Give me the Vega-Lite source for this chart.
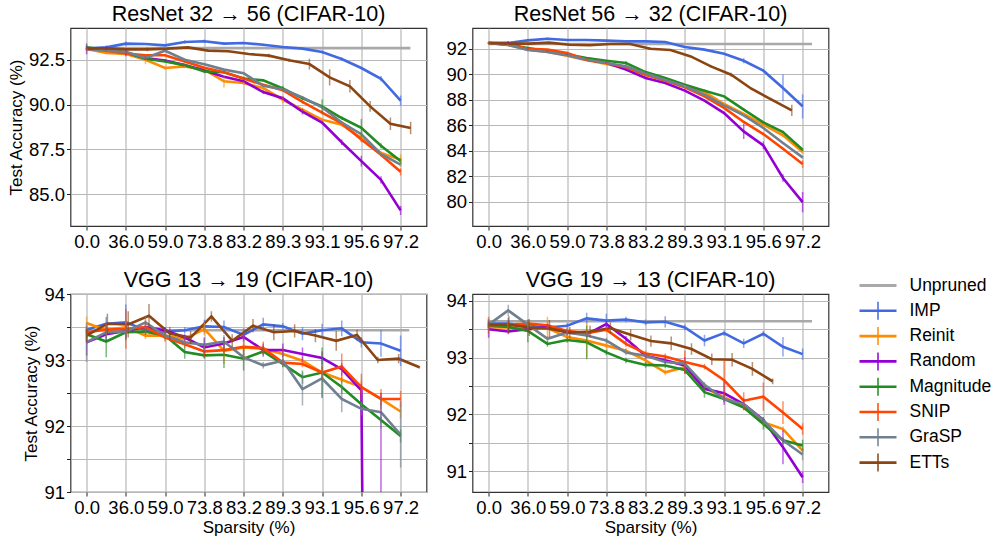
{
"$schema": "https://vega.github.io/schema/vega-lite/v6.json",
"padding": {"left": 6.5, "top": 2, "right": 0, "bottom": 0},
"config": {
  "font": "Liberation Sans",
  "view": {"stroke": "#333", "strokeWidth": 1.2},
  "axis": {"labelFontSize": 18.5, "labelColor": "#000", "titleFontSize": 17, "titleFontWeight": "normal", "titleColor": "#000", "gridColor": "#b8b8b8", "gridWidth": 1.2, "tickColor": "#222", "tickSize": 4, "domain": false, "labelPadding": 2, "titlePadding": 3},
  "title": {"fontSize": 21.5, "fontWeight": "normal", "color": "#000", "offset": 4}
},
"datasets": {
"tl": [
{"m":"Unpruned","x":0,"y":93.15},{"m":"Unpruned","x":8.25,"y":93.15},
{"m":"IMP","x":0,"y":93.12,"e":0.08},{"m":"IMP","x":0.5,"y":93.19,"e":0.1},{"m":"IMP","x":1,"y":93.40,"e":0.12},{"m":"IMP","x":1.5,"y":93.38,"e":0.06},{"m":"IMP","x":2,"y":93.30,"e":0.05},{"m":"IMP","x":2.5,"y":93.49,"e":0.1},{"m":"IMP","x":3,"y":93.53,"e":0.1},{"m":"IMP","x":3.5,"y":93.40,"e":0.06},{"m":"IMP","x":4,"y":93.43,"e":0.05},{"m":"IMP","x":4.5,"y":93.34,"e":0.05},{"m":"IMP","x":5,"y":93.21,"e":0.05},{"m":"IMP","x":5.5,"y":93.12,"e":0.05},{"m":"IMP","x":6,"y":92.93,"e":0.08},{"m":"IMP","x":6.5,"y":92.54,"e":0.08},{"m":"IMP","x":7,"y":92.04,"e":0.06},{"m":"IMP","x":7.5,"y":91.44,"e":0.15},{"m":"IMP","x":8,"y":90.22,"e":0.28},
{"m":"Reinit","x":0,"y":93.10,"e":0.1},{"m":"Reinit","x":0.5,"y":92.88,"e":0.05},{"m":"Reinit","x":1,"y":92.82,"e":0.05},{"m":"Reinit","x":1.5,"y":92.5,"e":0.25},{"m":"Reinit","x":2,"y":92.04,"e":0.1},{"m":"Reinit","x":2.5,"y":92.13,"e":0.1},{"m":"Reinit","x":3,"y":91.95,"e":0.1},{"m":"Reinit","x":3.5,"y":91.3,"e":0.35},{"m":"Reinit","x":4,"y":91.2,"e":0.1},{"m":"Reinit","x":4.5,"y":90.92,"e":0.1},{"m":"Reinit","x":5,"y":90.27,"e":0.2},{"m":"Reinit","x":5.5,"y":89.72,"e":0.1},{"m":"Reinit","x":6,"y":89.16,"e":0.1},{"m":"Reinit","x":6.5,"y":88.88,"e":0.1},{"m":"Reinit","x":7,"y":88.14,"e":0.2},{"m":"Reinit","x":7.5,"y":87.3,"e":0.1},{"m":"Reinit","x":8,"y":86.93,"e":0.3},
{"m":"Random","x":0,"y":93.1,"e":0.3},{"m":"Random","x":0.5,"y":93.1,"e":0.15},{"m":"Random","x":1,"y":92.9,"e":0.2},{"m":"Random","x":1.5,"y":92.6,"e":0.1},{"m":"Random","x":2,"y":92.45,"e":0.05},{"m":"Random","x":2.5,"y":92.2,"e":0.05},{"m":"Random","x":3,"y":91.9,"e":0.1},{"m":"Random","x":3.5,"y":91.55,"e":0.05},{"m":"Random","x":4,"y":91.3,"e":0.05},{"m":"Random","x":4.5,"y":90.7,"e":0.1},{"m":"Random","x":5,"y":90.35,"e":0.1},{"m":"Random","x":5.5,"y":89.6,"e":0.15},{"m":"Random","x":6,"y":89.0,"e":0.1},{"m":"Random","x":6.5,"y":87.9,"e":0.15},{"m":"Random","x":7,"y":86.85,"e":0.3},{"m":"Random","x":7.5,"y":85.8,"e":0.2},{"m":"Random","x":8,"y":84.1,"e":0.25},
{"m":"Magnitude","x":0,"y":93.2,"e":0.1},{"m":"Magnitude","x":0.5,"y":93.05,"e":0.05},{"m":"Magnitude","x":1,"y":92.9,"e":0.05},{"m":"Magnitude","x":1.5,"y":92.55,"e":0.05},{"m":"Magnitude","x":2,"y":92.4,"e":0.05},{"m":"Magnitude","x":2.5,"y":92.2,"e":0.05},{"m":"Magnitude","x":3,"y":91.85,"e":0.1},{"m":"Magnitude","x":3.5,"y":91.8,"e":0.05},{"m":"Magnitude","x":4,"y":91.45,"e":0.1},{"m":"Magnitude","x":4.5,"y":91.35,"e":0.05},{"m":"Magnitude","x":5,"y":90.9,"e":0.15},{"m":"Magnitude","x":5.5,"y":90.35,"e":0.1},{"m":"Magnitude","x":6,"y":89.9,"e":0.4},{"m":"Magnitude","x":6.5,"y":89.25,"e":0.1},{"m":"Magnitude","x":7,"y":88.7,"e":0.5},{"m":"Magnitude","x":7.5,"y":87.7,"e":0.15},{"m":"Magnitude","x":8,"y":86.85,"e":0.15},
{"m":"SNIP","x":0,"y":93.1,"e":0.05},{"m":"SNIP","x":0.5,"y":93.0,"e":0.05},{"m":"SNIP","x":1,"y":92.85,"e":0.1},{"m":"SNIP","x":1.5,"y":92.75,"e":0.05},{"m":"SNIP","x":2,"y":92.75,"e":0.05},{"m":"SNIP","x":2.5,"y":92.4,"e":0.05},{"m":"SNIP","x":3,"y":92.05,"e":0.05},{"m":"SNIP","x":3.5,"y":91.8,"e":0.05},{"m":"SNIP","x":4,"y":91.45,"e":0.05},{"m":"SNIP","x":4.5,"y":91.1,"e":0.05},{"m":"SNIP","x":5,"y":90.8,"e":0.05},{"m":"SNIP","x":5.5,"y":90.15,"e":0.1},{"m":"SNIP","x":6,"y":89.55,"e":0.1},{"m":"SNIP","x":6.5,"y":88.95,"e":0.1},{"m":"SNIP","x":7,"y":88.05,"e":0.15},{"m":"SNIP","x":7.5,"y":87.2,"e":0.1},{"m":"SNIP","x":8,"y":86.25,"e":0.2},
{"m":"GraSP","x":0,"y":93.1,"e":0.05},{"m":"GraSP","x":0.5,"y":93.0,"e":0.05},{"m":"GraSP","x":1,"y":92.95,"e":0.05},{"m":"GraSP","x":1.5,"y":92.6,"e":0.05},{"m":"GraSP","x":2,"y":93.0,"e":0.05},{"m":"GraSP","x":2.5,"y":92.5,"e":0.05},{"m":"GraSP","x":3,"y":92.25,"e":0.05},{"m":"GraSP","x":3.5,"y":91.95,"e":0.05},{"m":"GraSP","x":4,"y":91.75,"e":0.05},{"m":"GraSP","x":4.5,"y":91.05,"e":0.05},{"m":"GraSP","x":5,"y":90.85,"e":0.05},{"m":"GraSP","x":5.5,"y":90.4,"e":0.05},{"m":"GraSP","x":6,"y":89.85,"e":0.05},{"m":"GraSP","x":6.5,"y":89.0,"e":0.05},{"m":"GraSP","x":7,"y":88.35,"e":0.1},{"m":"GraSP","x":7.5,"y":87.25,"e":0.05},{"m":"GraSP","x":8,"y":86.65,"e":0.1},
{"m":"ETTs","x":0,"y":93.12,"e":0.05},{"m":"ETTs","x":0.516,"y":93.14,"e":0.1},{"m":"ETTs","x":1.032,"y":93.08,"e":0.05},{"m":"ETTs","x":1.548,"y":93.08,"e":0.1},{"m":"ETTs","x":2.064,"y":93.12,"e":0.05},{"m":"ETTs","x":2.58,"y":93.19,"e":0.05},{"m":"ETTs","x":3.096,"y":93.01,"e":0.05},{"m":"ETTs","x":3.612,"y":92.97,"e":0.05},{"m":"ETTs","x":4.128,"y":92.82,"e":0.05},{"m":"ETTs","x":4.644,"y":92.73,"e":0.1},{"m":"ETTs","x":5.16,"y":92.47,"e":0.1},{"m":"ETTs","x":5.676,"y":92.26,"e":0.3},{"m":"ETTs","x":6.192,"y":91.52,"e":0.45},{"m":"ETTs","x":6.708,"y":91.02,"e":0.35},{"m":"ETTs","x":7.224,"y":89.9,"e":0.3},{"m":"ETTs","x":7.74,"y":88.93,"e":0.35},{"m":"ETTs","x":8.256,"y":88.69,"e":0.35}
],
"tr": [
{"m":"Unpruned","x":0,"y":92.37},{"m":"Unpruned","x":8.24,"y":92.37},
{"m":"IMP","x":0,"y":92.45,"e":0.05},{"m":"IMP","x":0.5,"y":92.45,"e":0.1},{"m":"IMP","x":1,"y":92.66,"e":0.05},{"m":"IMP","x":1.5,"y":92.79,"e":0.1},{"m":"IMP","x":2,"y":92.69,"e":0.05},{"m":"IMP","x":2.5,"y":92.69,"e":0.05},{"m":"IMP","x":3,"y":92.64,"e":0.05},{"m":"IMP","x":3.5,"y":92.58,"e":0.05},{"m":"IMP","x":4,"y":92.58,"e":0.05},{"m":"IMP","x":4.5,"y":92.53,"e":0.05},{"m":"IMP","x":5,"y":92.14,"e":0.05},{"m":"IMP","x":5.5,"y":91.93,"e":0.05},{"m":"IMP","x":6,"y":91.61,"e":0.05},{"m":"IMP","x":6.5,"y":91.06,"e":0.2},{"m":"IMP","x":7,"y":90.28,"e":0.1},{"m":"IMP","x":7.5,"y":88.92,"e":1.05},{"m":"IMP","x":8,"y":87.48,"e":0.95},
{"m":"Reinit","x":0,"y":92.45,"e":0.05},{"m":"Reinit","x":0.5,"y":92.3,"e":0.05},{"m":"Reinit","x":1,"y":91.95,"e":0.05},{"m":"Reinit","x":1.5,"y":91.75,"e":0.05},{"m":"Reinit","x":2,"y":91.46,"e":0.05},{"m":"Reinit","x":2.5,"y":91.1,"e":0.05},{"m":"Reinit","x":3,"y":90.8,"e":0.05},{"m":"Reinit","x":3.5,"y":90.5,"e":0.05},{"m":"Reinit","x":4,"y":89.96,"e":0.05},{"m":"Reinit","x":4.5,"y":89.6,"e":0.05},{"m":"Reinit","x":5,"y":89.05,"e":0.1},{"m":"Reinit","x":5.5,"y":88.6,"e":0.05},{"m":"Reinit","x":6,"y":87.66,"e":0.05},{"m":"Reinit","x":6.5,"y":86.88,"e":0.1},{"m":"Reinit","x":7,"y":86.04,"e":0.1},{"m":"Reinit","x":7.5,"y":85.2,"e":0.15},{"m":"Reinit","x":8,"y":83.89,"e":0.15},
{"m":"Random","x":0,"y":92.45,"e":0.05},{"m":"Random","x":0.5,"y":92.45,"e":0.15},{"m":"Random","x":1,"y":91.95,"e":0.05},{"m":"Random","x":1.5,"y":91.8,"e":0.05},{"m":"Random","x":2,"y":91.54,"e":0.05},{"m":"Random","x":2.5,"y":91.14,"e":0.05},{"m":"Random","x":3,"y":90.9,"e":0.05},{"m":"Random","x":3.5,"y":90.36,"e":0.1},{"m":"Random","x":4,"y":89.7,"e":0.1},{"m":"Random","x":4.5,"y":89.31,"e":0.05},{"m":"Random","x":5,"y":88.71,"e":0.1},{"m":"Random","x":5.5,"y":87.92,"e":0.1},{"m":"Random","x":6,"y":86.95,"e":0.1},{"m":"Random","x":6.5,"y":85.51,"e":0.6},{"m":"Random","x":7,"y":84.41,"e":0.3},{"m":"Random","x":7.5,"y":81.85,"e":0.3},{"m":"Random","x":8,"y":79.96,"e":0.8},
{"m":"Magnitude","x":0,"y":92.45,"e":0.05},{"m":"Magnitude","x":0.5,"y":92.32,"e":0.05},{"m":"Magnitude","x":1,"y":92.05,"e":0.1},{"m":"Magnitude","x":1.5,"y":91.8,"e":0.05},{"m":"Magnitude","x":2,"y":91.54,"e":0.05},{"m":"Magnitude","x":2.5,"y":91.27,"e":0.05},{"m":"Magnitude","x":3,"y":91.06,"e":0.05},{"m":"Magnitude","x":3.5,"y":90.88,"e":0.15},{"m":"Magnitude","x":4,"y":90.17,"e":0.05},{"m":"Magnitude","x":4.5,"y":89.7,"e":0.05},{"m":"Magnitude","x":5,"y":89.18,"e":0.05},{"m":"Magnitude","x":5.5,"y":88.71,"e":0.1},{"m":"Magnitude","x":6,"y":88.26,"e":0.05},{"m":"Magnitude","x":6.5,"y":87.22,"e":0.1},{"m":"Magnitude","x":7,"y":86.22,"e":0.1},{"m":"Magnitude","x":7.5,"y":85.46,"e":0.1},{"m":"Magnitude","x":8,"y":84.07,"e":0.1},
{"m":"SNIP","x":0,"y":92.45,"e":0.1},{"m":"SNIP","x":0.5,"y":92.35,"e":0.05},{"m":"SNIP","x":1,"y":92.0,"e":0.05},{"m":"SNIP","x":1.5,"y":91.93,"e":0.05},{"m":"SNIP","x":2,"y":91.67,"e":0.05},{"m":"SNIP","x":2.5,"y":91.14,"e":0.1},{"m":"SNIP","x":3,"y":90.88,"e":0.05},{"m":"SNIP","x":3.5,"y":90.55,"e":0.05},{"m":"SNIP","x":4,"y":89.96,"e":0.05},{"m":"SNIP","x":4.5,"y":89.49,"e":0.05},{"m":"SNIP","x":5,"y":88.97,"e":0.05},{"m":"SNIP","x":5.5,"y":88.26,"e":0.05},{"m":"SNIP","x":6,"y":87.35,"e":0.05},{"m":"SNIP","x":6.5,"y":86.25,"e":0.1},{"m":"SNIP","x":7,"y":85.3,"e":0.1},{"m":"SNIP","x":7.5,"y":84.15,"e":0.1},{"m":"SNIP","x":8,"y":82.95,"e":0.3},
{"m":"GraSP","x":0,"y":92.45,"e":0.05},{"m":"GraSP","x":0.5,"y":92.3,"e":0.05},{"m":"GraSP","x":1,"y":91.9,"e":0.05},{"m":"GraSP","x":1.5,"y":91.75,"e":0.05},{"m":"GraSP","x":2,"y":91.5,"e":0.05},{"m":"GraSP","x":2.5,"y":91.14,"e":0.05},{"m":"GraSP","x":3,"y":90.88,"e":0.05},{"m":"GraSP","x":3.5,"y":90.62,"e":0.05},{"m":"GraSP","x":4,"y":90.05,"e":0.05},{"m":"GraSP","x":4.5,"y":89.55,"e":0.05},{"m":"GraSP","x":5,"y":89.05,"e":0.05},{"m":"GraSP","x":5.5,"y":88.39,"e":0.05},{"m":"GraSP","x":6,"y":87.56,"e":0.05},{"m":"GraSP","x":6.5,"y":86.77,"e":0.05},{"m":"GraSP","x":7,"y":85.78,"e":0.05},{"m":"GraSP","x":7.5,"y":84.6,"e":0.05},{"m":"GraSP","x":8,"y":83.47,"e":0.1},
{"m":"ETTs","x":0,"y":92.45,"e":0.05},{"m":"ETTs","x":0.515,"y":92.4,"e":0.1},{"m":"ETTs","x":1.03,"y":92.4,"e":0.05},{"m":"ETTs","x":1.545,"y":92.48,"e":0.05},{"m":"ETTs","x":2.06,"y":92.32,"e":0.05},{"m":"ETTs","x":2.575,"y":92.27,"e":0.05},{"m":"ETTs","x":3.09,"y":92.37,"e":0.05},{"m":"ETTs","x":3.605,"y":92.37,"e":0.05},{"m":"ETTs","x":4.12,"y":92.0,"e":0.1},{"m":"ETTs","x":4.635,"y":91.9,"e":0.05},{"m":"ETTs","x":5.15,"y":91.4,"e":0.05},{"m":"ETTs","x":5.665,"y":90.62,"e":0.1},{"m":"ETTs","x":6.18,"y":89.96,"e":0.15},{"m":"ETTs","x":6.695,"y":88.86,"e":0.1},{"m":"ETTs","x":7.21,"y":88.0,"e":0.1},{"m":"ETTs","x":7.725,"y":87.16,"e":0.45}
],
"bl": [
{"m":"Unpruned","x":0,"y":93.45},{"m":"Unpruned","x":8.22,"y":93.45},
{"m":"IMP","x":0,"y":93.46,"e":0.05},{"m":"IMP","x":0.5,"y":93.55,"e":0.1},{"m":"IMP","x":1,"y":93.57,"e":0.27},{"m":"IMP","x":1.5,"y":93.45,"e":0.05},{"m":"IMP","x":2,"y":93.43,"e":0.05},{"m":"IMP","x":2.5,"y":93.45,"e":0.05},{"m":"IMP","x":3,"y":93.51,"e":0.1},{"m":"IMP","x":3.5,"y":93.5,"e":0.1},{"m":"IMP","x":4,"y":93.38,"e":0.1},{"m":"IMP","x":4.5,"y":93.54,"e":0.1},{"m":"IMP","x":5,"y":93.51,"e":0.05},{"m":"IMP","x":5.5,"y":93.4,"e":0.1},{"m":"IMP","x":6,"y":93.45,"e":0.1},{"m":"IMP","x":6.5,"y":93.48,"e":0.12},{"m":"IMP","x":7,"y":93.27,"e":0.08},{"m":"IMP","x":7.5,"y":93.25,"e":0.2},{"m":"IMP","x":8,"y":93.14,"e":0.23},
{"m":"Reinit","x":0,"y":93.56,"e":0.1},{"m":"Reinit","x":0.5,"y":93.45,"e":0.05},{"m":"Reinit","x":1,"y":93.5,"e":0.1},{"m":"Reinit","x":1.5,"y":93.37,"e":0.05},{"m":"Reinit","x":2,"y":93.37,"e":0.1},{"m":"Reinit","x":2.5,"y":93.32,"e":0.05},{"m":"Reinit","x":3,"y":93.47,"e":0.1},{"m":"Reinit","x":3.5,"y":93.14,"e":0.2},{"m":"Reinit","x":4,"y":93.19,"e":0.05},{"m":"Reinit","x":4.5,"y":93.17,"e":0.05},{"m":"Reinit","x":5,"y":93.09,"e":0.1},{"m":"Reinit","x":5.5,"y":92.99,"e":0.05},{"m":"Reinit","x":6,"y":92.81,"e":0.1},{"m":"Reinit","x":6.5,"y":92.7,"e":0.05},{"m":"Reinit","x":7,"y":92.59,"e":0.1},{"m":"Reinit","x":7.5,"y":92.41,"e":0.1},{"m":"Reinit","x":8,"y":92.22,"e":0.1},
{"m":"Random","x":0,"y":93.27,"e":0.2},{"m":"Random","x":0.5,"y":93.39,"e":0.1},{"m":"Random","x":1,"y":93.44,"e":0.1},{"m":"Random","x":1.5,"y":93.5,"e":0.05},{"m":"Random","x":2,"y":93.45,"e":0.05},{"m":"Random","x":2.5,"y":93.34,"e":0.05},{"m":"Random","x":3,"y":93.19,"e":0.15},{"m":"Random","x":3.5,"y":93.25,"e":0.1},{"m":"Random","x":4,"y":93.35,"e":0.05},{"m":"Random","x":4.5,"y":93.15,"e":0.1},{"m":"Random","x":5,"y":93.15,"e":0.1},{"m":"Random","x":5.5,"y":93.09,"e":0.1},{"m":"Random","x":6,"y":93.03,"e":0.1},{"m":"Random","x":6.5,"y":92.86,"e":0.1},{"m":"Random","x":7,"y":92.54,"e":0.1},{"m":"Random","x":7.5,"y":60,"e":32.5},{"m":"Random","x":8,"y":10,"e":0.5},
{"m":"Magnitude","x":0,"y":93.39,"e":0.1},{"m":"Magnitude","x":0.5,"y":93.28,"e":0.24},{"m":"Magnitude","x":1,"y":93.42,"e":0.1},{"m":"Magnitude","x":1.5,"y":93.43,"e":0.05},{"m":"Magnitude","x":2,"y":93.37,"e":0.05},{"m":"Magnitude","x":2.5,"y":93.12,"e":0.1},{"m":"Magnitude","x":3,"y":93.07,"e":0.05},{"m":"Magnitude","x":3.5,"y":93.08,"e":0.2},{"m":"Magnitude","x":4,"y":93.02,"e":0.18},{"m":"Magnitude","x":4.5,"y":93.13,"e":0.05},{"m":"Magnitude","x":5,"y":92.94,"e":0.05},{"m":"Magnitude","x":5.5,"y":92.74,"e":0.1},{"m":"Magnitude","x":6,"y":92.81,"e":0.38},{"m":"Magnitude","x":6.5,"y":92.59,"e":0.1},{"m":"Magnitude","x":7,"y":92.33,"e":0.05},{"m":"Magnitude","x":7.5,"y":92.09,"e":0.05},{"m":"Magnitude","x":8,"y":91.85,"e":0.1},
{"m":"SNIP","x":0,"y":93.42,"e":0.1},{"m":"SNIP","x":0.5,"y":93.46,"e":0.1},{"m":"SNIP","x":1,"y":93.47,"e":0.3},{"m":"SNIP","x":1.5,"y":93.5,"e":0.1},{"m":"SNIP","x":2,"y":93.34,"e":0.05},{"m":"SNIP","x":2.5,"y":93.24,"e":0.05},{"m":"SNIP","x":3,"y":93.13,"e":0.1},{"m":"SNIP","x":3.5,"y":93.15,"e":0.05},{"m":"SNIP","x":4,"y":93.2,"e":0.2},{"m":"SNIP","x":4.5,"y":93.18,"e":0.1},{"m":"SNIP","x":5,"y":92.96,"e":0.05},{"m":"SNIP","x":5.5,"y":92.94,"e":0.05},{"m":"SNIP","x":6,"y":92.81,"e":0.1},{"m":"SNIP","x":6.5,"y":92.9,"e":0.2},{"m":"SNIP","x":7,"y":92.59,"e":0.2},{"m":"SNIP","x":7.5,"y":92.41,"e":0.15},{"m":"SNIP","x":8,"y":92.41,"e":0.12},
{"m":"GraSP","x":0,"y":93.27,"e":0.3},{"m":"GraSP","x":0.5,"y":93.42,"e":0.1},{"m":"GraSP","x":1,"y":93.43,"e":0.1},{"m":"GraSP","x":1.5,"y":93.57,"e":0.1},{"m":"GraSP","x":2,"y":93.37,"e":0.05},{"m":"GraSP","x":2.5,"y":93.27,"e":0.05},{"m":"GraSP","x":3,"y":93.23,"e":0.1},{"m":"GraSP","x":3.5,"y":93.28,"e":0.1},{"m":"GraSP","x":4,"y":93.04,"e":0.05},{"m":"GraSP","x":4.5,"y":92.92,"e":0.05},{"m":"GraSP","x":5,"y":92.99,"e":0.1},{"m":"GraSP","x":5.5,"y":92.56,"e":0.25},{"m":"GraSP","x":6,"y":92.72,"e":0.3},{"m":"GraSP","x":6.5,"y":92.41,"e":0.2},{"m":"GraSP","x":7,"y":92.26,"e":0.1},{"m":"GraSP","x":7.5,"y":92.21,"e":0.25},{"m":"GraSP","x":8,"y":91.87,"e":0.5},
{"m":"ETTs","x":0,"y":93.37,"e":0.1},{"m":"ETTs","x":0.53,"y":93.55,"e":0.15},{"m":"ETTs","x":1.06,"y":93.54,"e":0.2},{"m":"ETTs","x":1.59,"y":93.67,"e":0.18},{"m":"ETTs","x":2.12,"y":93.4,"e":0.1},{"m":"ETTs","x":2.65,"y":93.34,"e":0.1},{"m":"ETTs","x":3.18,"y":93.66,"e":0.08},{"m":"ETTs","x":3.71,"y":93.29,"e":0.1},{"m":"ETTs","x":4.24,"y":93.52,"e":0.1},{"m":"ETTs","x":4.77,"y":93.42,"e":0.12},{"m":"ETTs","x":5.3,"y":93.44,"e":0.1},{"m":"ETTs","x":5.83,"y":93.37,"e":0.1},{"m":"ETTs","x":6.36,"y":93.29,"e":0.15},{"m":"ETTs","x":6.89,"y":93.38,"e":0.08},{"m":"ETTs","x":7.42,"y":93.0,"e":0.05},{"m":"ETTs","x":7.95,"y":93.02,"e":0.07},{"m":"ETTs","x":8.48,"y":92.89,"e":0.02}
],
"br": [
{"m":"Unpruned","x":0,"y":93.64},{"m":"Unpruned","x":8.24,"y":93.64},
{"m":"IMP","x":0,"y":93.60,"e":0.08},{"m":"IMP","x":0.5,"y":93.60,"e":0.1},{"m":"IMP","x":1,"y":93.56,"e":0.05},{"m":"IMP","x":1.5,"y":93.53,"e":0.05},{"m":"IMP","x":2,"y":93.56,"e":0.05},{"m":"IMP","x":2.5,"y":93.69,"e":0.1},{"m":"IMP","x":3,"y":93.65,"e":0.12},{"m":"IMP","x":3.5,"y":93.67,"e":0.05},{"m":"IMP","x":4,"y":93.62,"e":0.05},{"m":"IMP","x":4.5,"y":93.63,"e":0.1},{"m":"IMP","x":5,"y":93.53,"e":0.05},{"m":"IMP","x":5.5,"y":93.30,"e":0.1},{"m":"IMP","x":6,"y":93.43,"e":0.05},{"m":"IMP","x":6.5,"y":93.25,"e":0.08},{"m":"IMP","x":7,"y":93.42,"e":0.05},{"m":"IMP","x":7.5,"y":93.19,"e":0.17},{"m":"IMP","x":8,"y":93.06,"e":0.1},
{"m":"Reinit","x":0,"y":93.53,"e":0.05},{"m":"Reinit","x":0.5,"y":93.53,"e":0.1},{"m":"Reinit","x":1,"y":93.5,"e":0.05},{"m":"Reinit","x":1.5,"y":93.52,"e":0.2},{"m":"Reinit","x":2,"y":93.36,"e":0.05},{"m":"Reinit","x":2.5,"y":93.3,"e":0.3},{"m":"Reinit","x":3,"y":93.21,"e":0.05},{"m":"Reinit","x":3.5,"y":93.12,"e":0.05},{"m":"Reinit","x":4,"y":92.95,"e":0.05},{"m":"Reinit","x":4.5,"y":92.74,"e":0.05},{"m":"Reinit","x":5,"y":92.83,"e":0.05},{"m":"Reinit","x":5.5,"y":92.47,"e":0.05},{"m":"Reinit","x":6,"y":92.3,"e":0.05},{"m":"Reinit","x":6.5,"y":92.13,"e":0.05},{"m":"Reinit","x":7,"y":91.86,"e":0.05},{"m":"Reinit","x":7.5,"y":91.74,"e":0.05},{"m":"Reinit","x":8,"y":91.36,"e":0.05},
{"m":"Random","x":0,"y":93.5,"e":0.15},{"m":"Random","x":0.5,"y":93.46,"e":0.05},{"m":"Random","x":1,"y":93.5,"e":0.05},{"m":"Random","x":1.5,"y":93.54,"e":0.05},{"m":"Random","x":2,"y":93.44,"e":0.05},{"m":"Random","x":2.5,"y":93.41,"e":0.05},{"m":"Random","x":3,"y":93.59,"e":0.05},{"m":"Random","x":3.5,"y":93.33,"e":0.05},{"m":"Random","x":4,"y":93.03,"e":0.05},{"m":"Random","x":4.5,"y":92.95,"e":0.05},{"m":"Random","x":5,"y":92.86,"e":0.15},{"m":"Random","x":5.5,"y":92.45,"e":0.05},{"m":"Random","x":6,"y":92.37,"e":0.2},{"m":"Random","x":6.5,"y":92.18,"e":0.1},{"m":"Random","x":7,"y":91.9,"e":0.05},{"m":"Random","x":7.5,"y":91.42,"e":0.3},{"m":"Random","x":8,"y":90.89,"e":0.1},
{"m":"Magnitude","x":0,"y":93.56,"e":0.05},{"m":"Magnitude","x":0.5,"y":93.54,"e":0.1},{"m":"Magnitude","x":1,"y":93.47,"e":0.2},{"m":"Magnitude","x":1.5,"y":93.24,"e":0.05},{"m":"Magnitude","x":2,"y":93.31,"e":0.05},{"m":"Magnitude","x":2.5,"y":93.27,"e":0.3},{"m":"Magnitude","x":3,"y":93.09,"e":0.05},{"m":"Magnitude","x":3.5,"y":92.95,"e":0.05},{"m":"Magnitude","x":4,"y":92.87,"e":0.05},{"m":"Magnitude","x":4.5,"y":92.86,"e":0.05},{"m":"Magnitude","x":5,"y":92.78,"e":0.05},{"m":"Magnitude","x":5.5,"y":92.39,"e":0.1},{"m":"Magnitude","x":6,"y":92.27,"e":0.05},{"m":"Magnitude","x":6.5,"y":92.12,"e":0.05},{"m":"Magnitude","x":7,"y":91.83,"e":0.1},{"m":"Magnitude","x":7.5,"y":91.54,"e":0.05},{"m":"Magnitude","x":8,"y":91.45,"e":0.1},
{"m":"SNIP","x":0,"y":93.57,"e":0.15},{"m":"SNIP","x":0.5,"y":93.58,"e":0.05},{"m":"SNIP","x":1,"y":93.6,"e":0.05},{"m":"SNIP","x":1.5,"y":93.57,"e":0.05},{"m":"SNIP","x":2,"y":93.47,"e":0.05},{"m":"SNIP","x":2.5,"y":93.43,"e":0.05},{"m":"SNIP","x":3,"y":93.49,"e":0.05},{"m":"SNIP","x":3.5,"y":93.24,"e":0.05},{"m":"SNIP","x":4,"y":93.07,"e":0.05},{"m":"SNIP","x":4.5,"y":93.02,"e":0.05},{"m":"SNIP","x":5,"y":92.92,"e":0.2},{"m":"SNIP","x":5.5,"y":92.84,"e":0.05},{"m":"SNIP","x":6,"y":92.6,"e":0.35},{"m":"SNIP","x":6.5,"y":92.24,"e":0.15},{"m":"SNIP","x":7,"y":92.31,"e":0.25},{"m":"SNIP","x":7.5,"y":92.03,"e":0.2},{"m":"SNIP","x":8,"y":91.74,"e":0.1},
{"m":"GraSP","x":0,"y":93.58,"e":0.1},{"m":"GraSP","x":0.5,"y":93.83,"e":0.1},{"m":"GraSP","x":1,"y":93.58,"e":0.05},{"m":"GraSP","x":1.5,"y":93.33,"e":0.05},{"m":"GraSP","x":2,"y":93.44,"e":0.05},{"m":"GraSP","x":2.5,"y":93.39,"e":0.05},{"m":"GraSP","x":3,"y":93.3,"e":0.05},{"m":"GraSP","x":3.5,"y":93.09,"e":0.05},{"m":"GraSP","x":4,"y":93.03,"e":0.05},{"m":"GraSP","x":4.5,"y":92.92,"e":0.05},{"m":"GraSP","x":5,"y":92.89,"e":0.05},{"m":"GraSP","x":5.5,"y":92.52,"e":0.05},{"m":"GraSP","x":6,"y":92.27,"e":0.05},{"m":"GraSP","x":6.5,"y":92.18,"e":0.05},{"m":"GraSP","x":7,"y":91.89,"e":0.05},{"m":"GraSP","x":7.5,"y":91.54,"e":0.05},{"m":"GraSP","x":8,"y":91.29,"e":0.1},
{"m":"ETTs","x":0,"y":93.58,"e":0.05},{"m":"ETTs","x":0.517,"y":93.58,"e":0.15},{"m":"ETTs","x":1.034,"y":93.53,"e":0.15},{"m":"ETTs","x":1.551,"y":93.51,"e":0.15},{"m":"ETTs","x":2.068,"y":93.44,"e":0.1},{"m":"ETTs","x":2.585,"y":93.46,"e":0.1},{"m":"ETTs","x":3.102,"y":93.52,"e":0.1},{"m":"ETTs","x":3.619,"y":93.4,"e":0.1},{"m":"ETTs","x":4.136,"y":93.29,"e":0.1},{"m":"ETTs","x":4.653,"y":93.25,"e":0.12},{"m":"ETTs","x":5.17,"y":93.15,"e":0.1},{"m":"ETTs","x":5.687,"y":92.97,"e":0.1},{"m":"ETTs","x":6.204,"y":92.96,"e":0.12},{"m":"ETTs","x":6.721,"y":92.8,"e":0.12},{"m":"ETTs","x":7.238,"y":92.58,"e":0.05}
]
},
"columns": 2,
"bounds": "flush",
"spacing": {"row": 68, "column": 46},
"concat": [
{
  "width": 356, "height": 198,
  "title": {"text": "ResNet 32 → 56 (CIFAR-10)", "offset": 3},
  "data": {"name": "tl"},
  "encoding": {
    "x": {"field": "x", "type": "quantitative", "scale": {"domain": [-0.41, 8.66], "nice": false, "zero": false}, "axis": {"values": [0,1,2,3,4,5,6,7,8], "labelExpr": "['0.0','36.0','59.0','73.8','83.2','89.3','93.1','95.6','97.2'][datum.value]", "title": null}},
    "y": {"field": "y", "type": "quantitative", "scale": {"domain": [83.23, 94.27], "nice": false, "zero": false}, "axis": {"values": [85, 87.5, 90, 92.5], "format": ".1f", "title": "Test Accuracy (%)"}},
    "color": {"field": "m", "type": "nominal", "sort": null,
      "scale": {"domain": ["Unpruned","IMP","Reinit","Random","Magnitude","SNIP","GraSP","ETTs"], "range": ["#a9a9a9","#4169e1","#ff8c00","#9400d3","#228b22","#ff4500","#708090","#8b4513"]},
      "legend": {"title": null, "orient": "none", "legendX": 789, "legendY": 247.5, "symbolSize": 400, "labelFontSize": 17.5, "labelColor": "#000", "labelOffset": 30, "rowPadding": 6.3,
        "encode": {"symbols": {"update": {
          "shape": {"signal": "datum.value === 'Unpruned' ? 'M-1,-0.15H2.7V0.15H-1Z' : 'M-1,-0.13H0.775V-0.9H0.925V-0.13H2.7V0.13H0.925V0.9H0.775V0.13H-1Z'"},
          "fill": {"signal": "scale('color', datum.value)"},
          "stroke": {"value": "transparent"}, "strokeWidth": {"value": 0}, "opacity": {"value": 1}, "fillOpacity": {"value": 1}, "size": {"value": 400}}}}}
    }
  },
  "layer": [
    {"mark": {"type": "line", "strokeWidth": 2.6, "clip": true}},
    {"transform": [{"filter": "datum.m !== 'Unpruned'"}], "mark": {"type": "errorbar", "clip": true, "thickness": 1.5, "opacity": 0.6}, "encoding": {"y": {"field": "y", "type": "quantitative"}, "yError": {"field": "e"}}}
  ]
},
{
  "width": 356, "height": 198,
  "title": {"text": "ResNet 56 → 32 (CIFAR-10)", "offset": 3},
  "data": {"name": "tr"},
  "encoding": {
    "x": {"field": "x", "type": "quantitative", "scale": {"domain": [-0.41, 8.66], "nice": false, "zero": false}, "axis": {"values": [0,1,2,3,4,5,6,7,8], "labelExpr": "['0.0','36.0','59.0','73.8','83.2','89.3','93.1','95.6','97.2'][datum.value]", "title": null}},
    "y": {"field": "y", "type": "quantitative", "scale": {"domain": [78.08, 93.63], "nice": false, "zero": false}, "axis": {"values": [80, 82, 84, 86, 88, 90, 92], "format": "d", "title": null}},
    "color": {"field": "m", "type": "nominal", "sort": null,
      "scale": {"domain": ["Unpruned","IMP","Reinit","Random","Magnitude","SNIP","GraSP","ETTs"], "range": ["#a9a9a9","#4169e1","#ff8c00","#9400d3","#228b22","#ff4500","#708090","#8b4513"]},
      "legend": {"title": null, "orient": "none", "legendX": 789, "legendY": 247.5, "symbolSize": 400, "labelFontSize": 17.5, "labelColor": "#000", "labelOffset": 30, "rowPadding": 6.3,
        "encode": {"symbols": {"update": {
          "shape": {"signal": "datum.value === 'Unpruned' ? 'M-1,-0.15H2.7V0.15H-1Z' : 'M-1,-0.13H0.775V-0.9H0.925V-0.13H2.7V0.13H0.925V0.9H0.775V0.13H-1Z'"},
          "fill": {"signal": "scale('color', datum.value)"},
          "stroke": {"value": "transparent"}, "strokeWidth": {"value": 0}, "opacity": {"value": 1}, "fillOpacity": {"value": 1}, "size": {"value": 400}}}}}
    }
  },
  "layer": [
    {"mark": {"type": "line", "strokeWidth": 2.6, "clip": true}},
    {"transform": [{"filter": "datum.m !== 'Unpruned'"}], "mark": {"type": "errorbar", "clip": true, "thickness": 1.5, "opacity": 0.6}, "encoding": {"y": {"field": "y", "type": "quantitative"}, "yError": {"field": "e"}}}
  ]
},
{
  "width": 356, "height": 198,
  "title": {"text": "VGG 13 → 19 (CIFAR-10)", "offset": -6},
  "data": {"name": "bl"},
  "encoding": {
    "x": {"field": "x", "type": "quantitative", "scale": {"domain": [-0.41, 8.66], "nice": false, "zero": false}, "axis": {"values": [0,1,2,3,4,5,6,7,8], "labelExpr": "['0.0','36.0','59.0','73.8','83.2','89.3','93.1','95.6','97.2'][datum.value]", "title": "Sparsity (%)"}},
    "y": {"field": "y", "type": "quantitative", "scale": {"domain": [91, 94], "nice": false, "zero": false}, "axis": {"values": [91, 91.5, 92, 92.5, 93, 93.5, 94], "labelExpr": "datum.value % 1 === 0 ? format(datum.value, 'd') : ''", "title": "Test Accuracy (%)"}},
    "color": {"field": "m", "type": "nominal", "sort": null,
      "scale": {"domain": ["Unpruned","IMP","Reinit","Random","Magnitude","SNIP","GraSP","ETTs"], "range": ["#a9a9a9","#4169e1","#ff8c00","#9400d3","#228b22","#ff4500","#708090","#8b4513"]},
      "legend": {"title": null, "orient": "none", "legendX": 789, "legendY": 247.5, "symbolSize": 400, "labelFontSize": 17.5, "labelColor": "#000", "labelOffset": 30, "rowPadding": 6.3,
        "encode": {"symbols": {"update": {
          "shape": {"signal": "datum.value === 'Unpruned' ? 'M-1,-0.15H2.7V0.15H-1Z' : 'M-1,-0.13H0.775V-0.9H0.925V-0.13H2.7V0.13H0.925V0.9H0.775V0.13H-1Z'"},
          "fill": {"signal": "scale('color', datum.value)"},
          "stroke": {"value": "transparent"}, "strokeWidth": {"value": 0}, "opacity": {"value": 1}, "fillOpacity": {"value": 1}, "size": {"value": 400}}}}}
    }
  },
  "layer": [
    {"mark": {"type": "line", "strokeWidth": 2.6, "clip": true}},
    {"transform": [{"filter": "datum.m !== 'Unpruned'"}], "mark": {"type": "errorbar", "clip": true, "thickness": 1.5, "opacity": 0.6}, "encoding": {"y": {"field": "y", "type": "quantitative"}, "yError": {"field": "e"}}}
  ]
},
{
  "width": 356, "height": 198,
  "title": {"text": "VGG 19 → 13 (CIFAR-10)", "offset": 0},
  "data": {"name": "br"},
  "encoding": {
    "x": {"field": "x", "type": "quantitative", "scale": {"domain": [-0.41, 8.66], "nice": false, "zero": false}, "axis": {"values": [0,1,2,3,4,5,6,7,8], "labelExpr": "['0.0','36.0','59.0','73.8','83.2','89.3','93.1','95.6','97.2'][datum.value]", "title": "Sparsity (%)"}},
    "y": {"field": "y", "type": "quantitative", "scale": {"domain": [90.63, 94.12], "nice": false, "zero": false}, "axis": {"values": [91, 91.5, 92, 92.5, 93, 93.5, 94], "labelExpr": "datum.value % 1 === 0 ? format(datum.value, 'd') : ''", "title": null}},
    "color": {"field": "m", "type": "nominal", "sort": null,
      "scale": {"domain": ["Unpruned","IMP","Reinit","Random","Magnitude","SNIP","GraSP","ETTs"], "range": ["#a9a9a9","#4169e1","#ff8c00","#9400d3","#228b22","#ff4500","#708090","#8b4513"]},
      "legend": {"title": null, "orient": "none", "legendX": 789, "legendY": 247.5, "symbolSize": 400, "labelFontSize": 17.5, "labelColor": "#000", "labelOffset": 30, "rowPadding": 6.3,
        "encode": {"symbols": {"update": {
          "shape": {"signal": "datum.value === 'Unpruned' ? 'M-1,-0.15H2.7V0.15H-1Z' : 'M-1,-0.13H0.775V-0.9H0.925V-0.13H2.7V0.13H0.925V0.9H0.775V0.13H-1Z'"},
          "fill": {"signal": "scale('color', datum.value)"},
          "stroke": {"value": "transparent"}, "strokeWidth": {"value": 0}, "opacity": {"value": 1}, "fillOpacity": {"value": 1}, "size": {"value": 400}}}}}
    }
  },
  "layer": [
    {"mark": {"type": "line", "strokeWidth": 2.6, "clip": true}},
    {"transform": [{"filter": "datum.m !== 'Unpruned'"}], "mark": {"type": "errorbar", "clip": true, "thickness": 1.5, "opacity": 0.6}, "encoding": {"y": {"field": "y", "type": "quantitative"}, "yError": {"field": "e"}}}
  ]
}
]
}
